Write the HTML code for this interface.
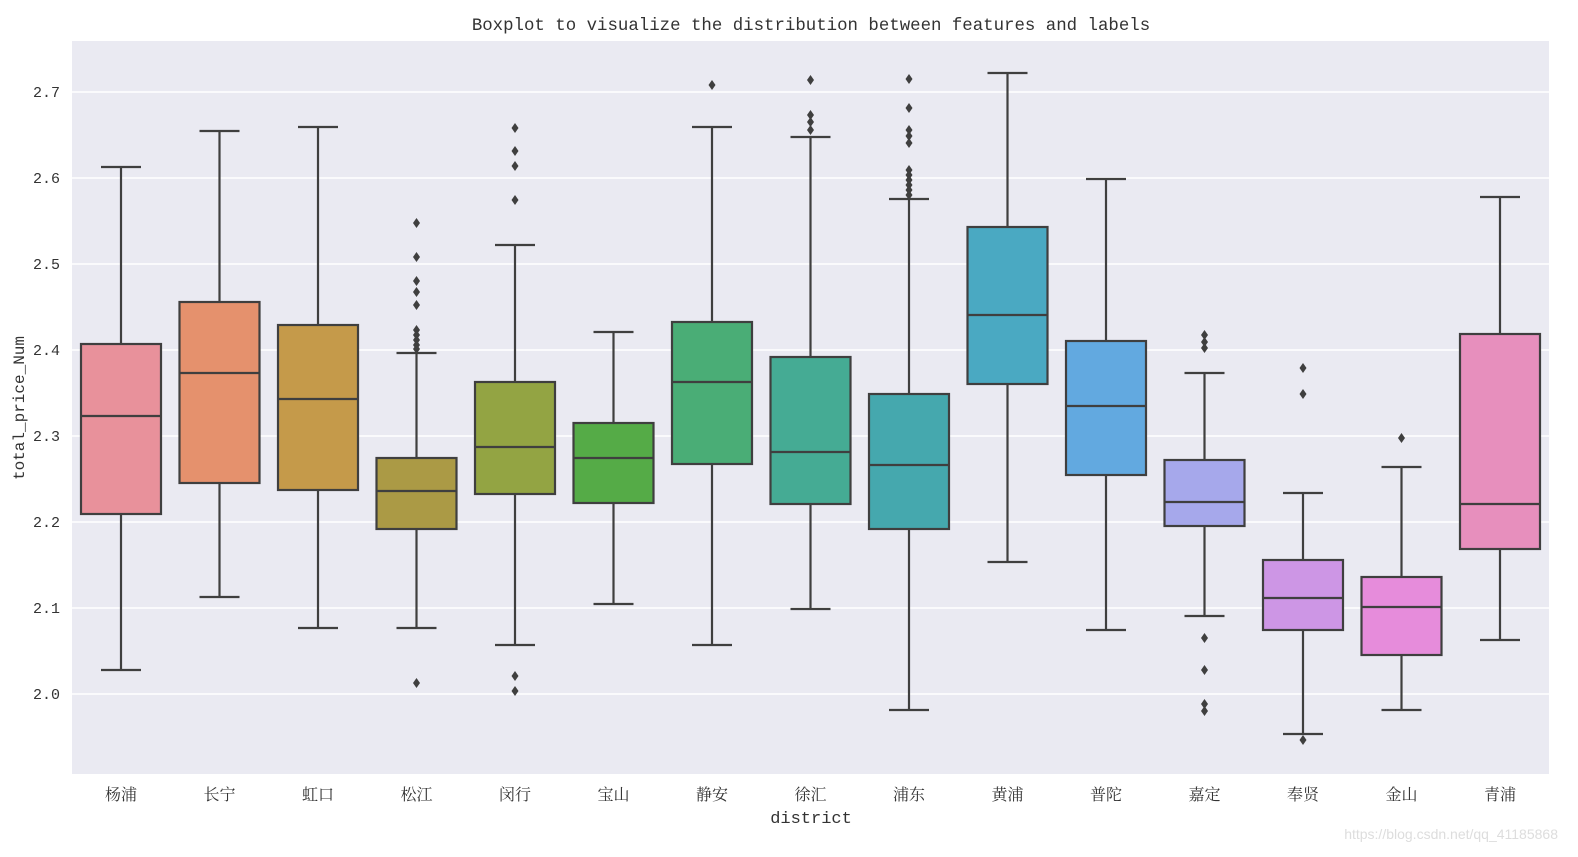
<!DOCTYPE html>
<html><head><meta charset="utf-8"><style>
html,body{margin:0;padding:0;background:#fff;}
svg{display:block;}
text{font-family:"Liberation Mono","Noto Serif CJK SC",monospace;fill:#333;}
</style></head><body>
<svg width="1578" height="857" xmlns="http://www.w3.org/2000/svg">
<rect x="0" y="0" width="1578" height="857" fill="#fff"/>
<rect x="72" y="41" width="1477" height="733" fill="#eaeaf2"/>
<g stroke="#fff" stroke-width="1.5">
<line x1="72" x2="1549" y1="92" y2="92"/><line x1="72" x2="1549" y1="178" y2="178"/>
<line x1="72" x2="1549" y1="264" y2="264"/><line x1="72" x2="1549" y1="350" y2="350"/>
<line x1="72" x2="1549" y1="436" y2="436"/><line x1="72" x2="1549" y1="522" y2="522"/>
<line x1="72" x2="1549" y1="608" y2="608"/><line x1="72" x2="1549" y1="694" y2="694"/>
</g>
<g font-size="15" text-anchor="end">
<text x="60" y="97">2.7</text><text x="60" y="183">2.6</text><text x="60" y="269">2.5</text>
<text x="60" y="355">2.4</text><text x="60" y="441">2.3</text><text x="60" y="527">2.2</text>
<text x="60" y="613">2.1</text><text x="60" y="699">2.0</text>
</g>
<text x="24" y="408" font-size="16" text-anchor="middle" transform="rotate(-90 24 408)">total_price_Num</text>
<text x="811" y="30" font-size="17.4" text-anchor="middle">Boxplot to visualize the distribution between features and labels</text>
<text x="811" y="823" font-size="17" text-anchor="middle">district</text>
<text x="1558" y="839" font-size="14" text-anchor="end" style="fill:#ddd;font-family:'Liberation Sans',sans-serif">https://blog.csdn.net/qq_41185868</text>
<g id="boxes" stroke="#3f3f3f" stroke-width="2.2"></g>
<g id="labels" font-size="16" text-anchor="middle"></g>
</svg>
<script>
var d=[
["杨浦",167,344,416,514,670,[],"#e8919b"],
["长宁",131,302,373,483,597,[],"#e5916d"],
["虹口",127,325,399,490,628,[],"#c59a4a"],
["松江",353,458,491,529,628,[223,257,281,292,305,330,335,340,345,349,683],"#ab9a45"],
["闵行",245,382,447,494,645,[128,151,166,200,676,691],"#93a443"],
["宝山",332,423,458,503,604,[],"#55ab47"],
["静安",127,322,382,464,645,[85],"#4aad76"],
["徐汇",137,357,452,504,609,[80,115,122,130],"#45ab94"],
["浦东",199,394,465,529,710,[79,108,130,136,143,170,175,180,185,190,195],"#45a8ae"],
["黄浦",73,227,315,384,562,[],"#4aa9c2"],
["普陀",179,341,406,475,630,[],"#62a9e0"],
["嘉定",373,460,502,526,616,[335,342,348,638,670,704,711],"#a6a8eb"],
["奉贤",493,560,598,630,734,[368,394,740],"#cd96e5"],
["金山",467,577,607,655,710,[438],"#e68cdb"],
["青浦",197,334,504,549,640,[],"#e78fbd"]];
var ns="http://www.w3.org/2000/svg",g=document.getElementById("boxes"),L=document.getElementById("labels");
function el(t,a,p){var e=document.createElementNS(ns,t);for(var k in a)e.setAttribute(k,a[k]);p.appendChild(e);return e;}
d.forEach(function(b,i){
var c=121+i*98.5,w=40;
el("line",{x1:c,x2:c,y1:b[1],y2:b[2]},g);
el("line",{x1:c,x2:c,y1:b[4],y2:b[5]},g);
el("line",{x1:c-20,x2:c+20,y1:b[1],y2:b[1]},g);
el("line",{x1:c-20,x2:c+20,y1:b[5],y2:b[5]},g);
el("rect",{x:c-w,y:b[2],width:2*w,height:b[4]-b[2],fill:b[7]},g);
el("line",{x1:c-w,x2:c+w,y1:b[3],y2:b[3]},g);
b[6].forEach(function(y){el("polygon",{points:(c)+","+(y-5)+" "+(c+3.5)+","+y+" "+c+","+(y+5)+" "+(c-3.5)+","+y,fill:"#3f3f3f",stroke:"none"},g);});
var t=el("text",{x:c,y:800},L);t.textContent=b[0];
});
</script>
</body></html>
